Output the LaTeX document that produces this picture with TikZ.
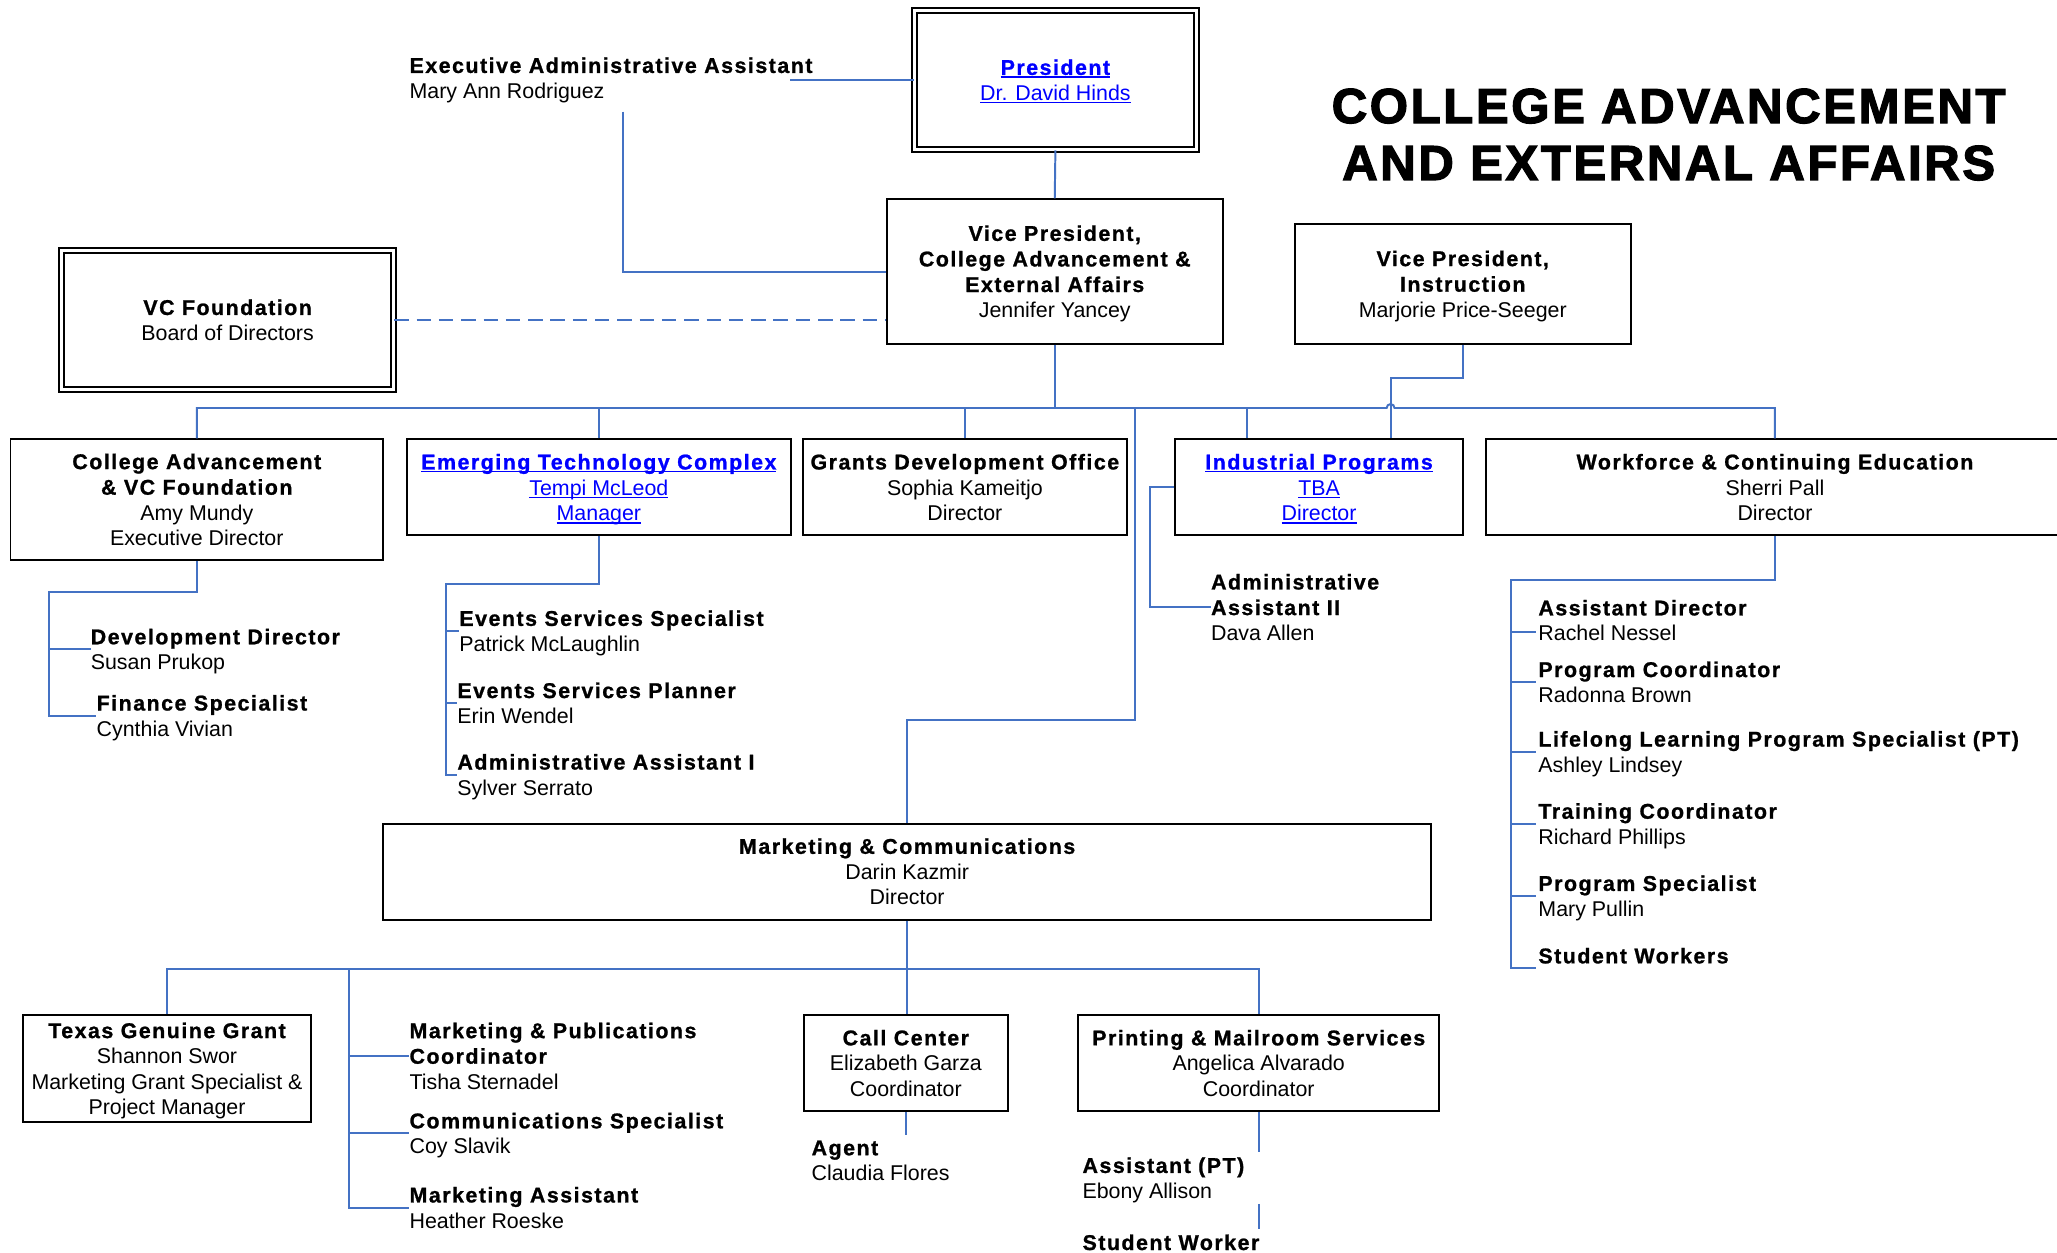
\documentclass[tikz,border=0pt]{standalone}
\usepackage{fontspec}
\setmainfont{Liberation Sans}
\newfontfamily\hd{Liberation Sans}[LetterSpace=7.0, BoldFeatures={FakeBold=1.0}]
\newfontfamily\ttlfont{Liberation Sans}[LetterSpace=5.2, BoldFeatures={FakeBold=2.5}]
\usetikzlibrary{calc}
\definecolor{lineblue}{RGB}{68,114,196}
\definecolor{lnkblue}{RGB}{0,0,255}

% text helpers
\newcommand\fsz{\fontsize{16.3}{19.5}\selectfont}
\newcommand\st{\rule[-3.9pt]{0pt}{19.5pt}}
\newcommand\B[1]{\st{\hd\bfseries #1}}
\newcommand\R[1]{\st #1}
\newsavebox\lnkbox
\newcommand\lnk[1]{\sbox\lnkbox{#1}\usebox\lnkbox\llap{\rule[-2.2pt]{\wd\lnkbox}{1pt}}}

\begin{document}
\begin{tikzpicture}[x=1pt, y=-1pt,
  box/.style={draw, line width=1.5pt, rectangle, inner sep=0pt, align=center, font=\fsz},
  dbox/.style={box, line width=1.2pt, double, double distance=2.6pt},
  lbl/.style={anchor=west, inner sep=0pt, align=left, font=\fsz},
  conn/.style={draw=lineblue, line width=1.5pt},
  link/.style={text=lnkblue}]

\fill[white] (0,0) rectangle (1568,955);
\useasboundingbox (0,0) rectangle (1568,955);

% title
\node (title) [anchor=north, inner sep=0pt, align=center,
  font=\ttlfont\bfseries\fontsize{37.5}{43.4}\selectfont] at (1272,67.4)
  {COLLEGE ADVANCEMENT\\AND EXTERNAL AFFAIRS};

% top level
\node (pres) [dbox, link, minimum width=215, minimum height=106] at (804.5,61)
  {\st\lnk{\hd\bfseries President}\\\st\lnk{Dr. David Hinds}};
\node (eaa) [lbl] at (312,59.5)
  {\B{Executive Administrative Assistant}\\\R{Mary Ann Rodriguez}};
\node (vpca) [box, minimum width=256, minimum height=110] at (804,207)
  {\B{Vice President,}\\\B{College Advancement \&}\\\B{External Affairs}\\\R{Jennifer Yancey}};
\node (vcf) [dbox, minimum width=253, minimum height=106] at (173.5,244)
  {\B{VC Foundation}\\\R{Board of Directors}};
\node (vpi) [box, minimum width=256, minimum height=91] at (1115,216.5)
  {\B{Vice President,}\\\B{Instruction}\\\R{Marjorie Price-Seeger}};

% departments
\node (cavc) [box, minimum width=284, minimum height=92] at (150,381)
  {\B{College Advancement}\\\B{\& VC Foundation}\\\R{Amy Mundy}\\\R{Executive Director}};
\node (etc) [box, link, minimum width=293, minimum height=73] at (456.5,371.5)
  {\st\lnk{\hd\bfseries Emerging Technology Complex}\\\st\lnk{Tempi McLeod}\\\st\lnk{Manager}};
\node (gdo) [box, minimum width=247, minimum height=73] at (735.5,371.5)
  {\B{Grants Development Office}\\\R{Sophia Kameitjo}\\\R{Director}};
\node (ind) [box, link, minimum width=219, minimum height=73] at (1005.5,371.5)
  {\st\lnk{\hd\bfseries Industrial Programs}\\\st\lnk{TBA}\\\st\lnk{Director}};
\node (wce) [box, minimum width=440, minimum height=73] at (1353,371.5)
  {\B{Workforce \& Continuing Education}\\\R{Sherri Pall}\\\R{Director}};

% staff under College Advancement
\node (dd) [lbl] at (69,495) {\B{Development Director}\\\R{Susan Prukop}};
\node (fs) [lbl] at (73.5,545.5) {\B{Finance Specialist}\\\R{Cynthia Vivian}};

% staff under Emerging Technology Complex
\node (ess) [lbl] at (350,481) {\B{Events Services Specialist}\\\R{Patrick McLaughlin}};
\node (esp) [lbl] at (348.5,536) {\B{Events Services Planner}\\\R{Erin Wendel}};
\node (aa1) [lbl] at (348.5,590.5) {\B{Administrative Assistant I}\\\R{Sylver Serrato}};

% staff under Industrial Programs
\node (aa2) [lbl] at (923,463) {\B{Administrative}\\\B{Assistant II}\\\R{Dava Allen}};

% staff under Workforce & Continuing Education
\node (ad) [lbl] at (1172.5,473) {\B{Assistant Director}\\\R{Rachel Nessel}};
\node (pc) [lbl] at (1172.5,520) {\B{Program Coordinator}\\\R{Radonna Brown}};
\node (ll) [lbl] at (1172.5,573) {\B{Lifelong Learning Program Specialist (PT)}\\\R{Ashley Lindsey}};
\node (tc) [lbl] at (1172.5,628) {\B{Training Coordinator}\\\R{Richard Phillips}};
\node (ps) [lbl] at (1172.5,683) {\B{Program Specialist}\\\R{Mary Pullin}};
\node (sw) [lbl] at (1172.5,728.5) {\B{Student Workers}};

% marketing
\node (mkt) [box, minimum width=799, minimum height=73] at (691.5,664.5)
  {\B{Marketing \& Communications}\\\R{Darin Kazmir}\\\R{Director}};
\node (tgg) [box, minimum width=219.5, minimum height=81.5] at (127.3,814.7)
  {\B{Texas Genuine Grant}\\\R{Shannon Swor}\\\R{Marketing Grant Specialist \&}\\\R{Project Manager}};
\node (mp) [lbl] at (312,805) {\B{Marketing \& Publications}\\\B{Coordinator}\\\R{Tisha Sternadel}};
\node (cs) [lbl] at (312,864) {\B{Communications Specialist}\\\R{Coy Slavik}};
\node (ma) [lbl] at (312,920.5) {\B{Marketing Assistant}\\\R{Heather Roeske}};
\node (cc) [box, minimum width=155, minimum height=73] at (690.5,810.5)
  {\B{Call Center}\\\R{Elizabeth Garza}\\\R{Coordinator}};
\node (agent) [lbl] at (618.5,884.5) {\B{Agent}\\\R{Claudia Flores}};
\node (pms) [box, minimum width=275, minimum height=73] at (959.5,810.5)
  {\B{Printing \& Mailroom Services}\\\R{Angelica Alvarado}\\\R{Coordinator}};
\node (apt) [lbl] at (825,898) {\B{Assistant (PT)}\\\R{Ebony Allison}};
\node (stw) [lbl] at (825,947) {\B{Student Worker}};

% ---------- connectors ----------
\coordinate (eaaend) at (602,61);
\coordinate (eaadrop) at (475,85);
\coordinate (bj) at (804,311);
\coordinate (mkj) at (865,311);
\coordinate (mkbend) at (865,548.5);
\coordinate (catr) at (37,451);
\coordinate (etctr) at (340,445);
\coordinate (wtr) at (1152,442);
\coordinate (mkb) at (266,739);

\draw[conn] (pres.west) -- (eaaend);
\draw[conn] (eaadrop) |- (vpca.west);
\draw[conn] (pres.south) -- (vpca.north);
\draw[conn, dashed, dash pattern=on 11pt off 6pt] (vcf.east) -- (vpca.west |- vcf.east);

% main bus with a hop over the Instruction line
\draw[conn] (cavc.north) -- (cavc.north |- bj) -- (1057,311)
  arc[start angle=180, end angle=0, radius=3pt] -- (wce.north |- bj) -- (wce.north);
\draw[conn] (vpca.south) -- (bj);
\draw[conn] (etc.north) -- (etc.north |- bj);
\draw[conn] (gdo.north) -- (gdo.north |- bj);
\draw[conn] ([xshift=-55pt]ind.north) -- ([xshift=-55pt]ind.north |- bj);
\draw[conn] (vpi.south) -- ++(0,25.5) -| ([xshift=54.5pt]ind.north);
\draw[conn] (mkj) -- (mkbend) -| (mkt.north);

% College Advancement staff
\draw[conn] (cavc.south) |- (catr) -- (catr |- fs.west) -- (fs.west);
\draw[conn] (catr |- dd.west) -- (dd.west);

% Emerging Technology staff
\draw[conn] (etc.south) |- (etctr) -- (etctr |- aa1.west) -- (aa1.west);
\draw[conn] (etctr |- ess.west) -- (ess.west);
\draw[conn] (etctr |- esp.west) -- (esp.west);

% Industrial Programs staff
\draw[conn] (ind.west) -- ++(-19,0) |- (aa2.west);

% Workforce staff
\draw[conn] (wce.south) |- (wtr) -- ($(wtr |- sw.west)+(0,9.2)$) -- ($(sw.west)+(-2,9.2)$);
\draw[conn] ($(wtr |- ad.west)+(0,8.5)$) -- ($(ad.west)+(-2,8.5)$);
\draw[conn] (wtr |- pc.west) -- ([xshift=-2pt]pc.west);
\draw[conn] (wtr |- ll.west) -- ([xshift=-2pt]ll.west);
\draw[conn] (wtr |- tc.west) -- ([xshift=-2pt]tc.west);
\draw[conn] (wtr |- ps.west) -- ([xshift=-2pt]ps.west);

% Marketing staff
\draw[conn] (mkt.south) -- (mkt.south |- cc.north);
\draw[conn] (tgg.north) -- (tgg.north |- mkb) -| (pms.north);
\draw[conn] (mkb) |- (ma.west);
\draw[conn] (mkb |- mp.west) -- (mp.west);
\draw[conn] (mkb |- cs.west) -- (cs.west);
\draw[conn] (cc.south) -- (cc.south |- agent.north);
\draw[conn] (pms.south) -- (pms.south |- apt.north);
\draw[conn] (pms.south |- apt.south) -- (pms.south |- stw.north);

\end{tikzpicture}
\end{document}
